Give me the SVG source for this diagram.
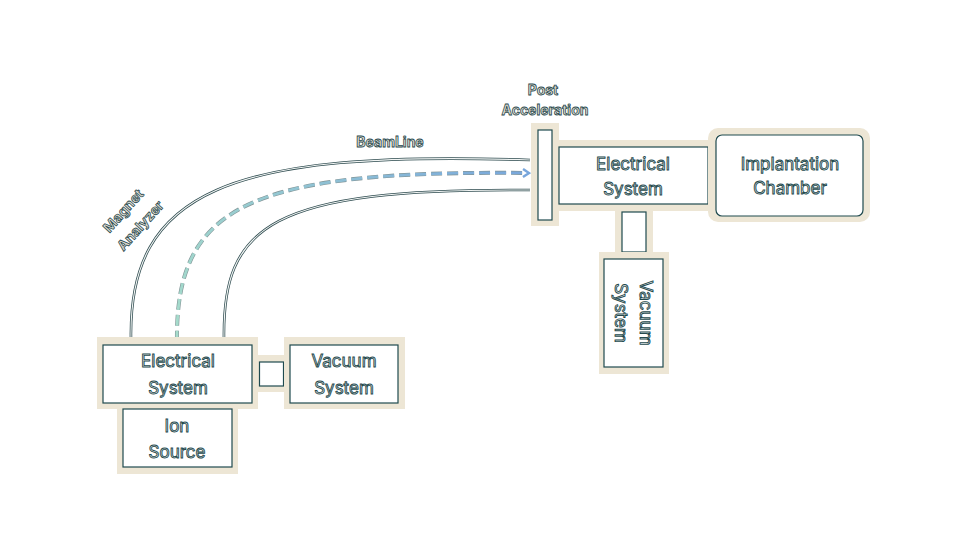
<svg xmlns="http://www.w3.org/2000/svg" width="960" height="540" viewBox="0 0 960 540">
<defs>
<style>
.frame{fill:#ede6d5;stroke:none}
.inner{fill:#ffffff;stroke:#1f4a4f;stroke-width:1.2}
.t{font-family:Inter,"Noto Sans",sans-serif;font-size:17px;fill:#f2f5f4;stroke:#24494d;stroke-width:0.9;text-anchor:middle}
.lbl{font-family:Inter,"Noto Sans",sans-serif;font-size:14px;font-weight:bold;fill:#e4e0d3;stroke:#2a4a4f;stroke-width:0.8;text-anchor:middle}
.railDark{fill:none;stroke:#2f4c50;stroke-width:2.6}
.railLight{fill:none;stroke:#f2f5f4;stroke-width:1.1}
</style>
<linearGradient id="beamGrad" gradientUnits="userSpaceOnUse" x1="177" y1="340" x2="530" y2="173">
<stop offset="0" stop-color="#a6dccb"/>
<stop offset="1" stop-color="#78a6dc"/>
</linearGradient>
<marker id="arrow" markerWidth="10" markerHeight="10" refX="7" refY="5" orient="auto" markerUnits="userSpaceOnUse">
<path d="M2,1 L8,5 L2,9" fill="none" stroke="#78a6dc" stroke-width="2.4"/>
</marker>
</defs>
<rect width="960" height="540" fill="#ffffff"/>

<g id="connectors">
<path class="railDark" d="M131,340 C128,190 230,150 530,160"/>
<path class="railLight" d="M131,340 C128,190 230,150 530,160"/>
<path class="railDark" d="M224,340 C222,225 270,188 530,190"/>
<path class="railLight" d="M224,340 C222,225 270,188 530,190"/>
<path d="M177,342 C175,205 250,170 528,173" fill="none" stroke="#2f4c50" stroke-width="4" stroke-dasharray="11 5" opacity="0.6"/>
<path d="M177,342 C175,205 250,170 528,173" fill="none" stroke="url(#beamGrad)" stroke-width="2.8" stroke-dasharray="11 5" marker-end="url(#arrow)"/>
</g>

<g id="electrical-bottom">
<rect class="frame" x="97" y="337" width="161" height="72"/>
<rect class="inner" x="103" y="345" width="149" height="58"/>
<text class="t" x="178" y="367">Electrical</text>
<text class="t" x="178" y="394">System</text>
</g>

<g id="ion-source">
<rect class="frame" x="117" y="405" width="121" height="69"/>
<rect class="inner" x="123" y="409" width="109" height="58"/>
<text class="t" x="177" y="432">Ion</text>
<text class="t" x="177" y="458">Source</text>
</g>

<g id="link-bottom">
<rect class="frame" x="258" y="355" width="27" height="37"/>
<rect class="inner" x="259.5" y="362" width="24" height="24"/>
</g>

<g id="vacuum-bottom">
<rect class="frame" x="284" y="337" width="121" height="72"/>
<rect class="inner" x="290" y="345" width="108" height="58"/>
<text class="t" x="344" y="367">Vacuum</text>
<text class="t" x="344" y="394">System</text>
</g>

<g id="post-acceleration">
<rect class="frame" x="531" y="123" width="28" height="103"/>
<rect class="inner" x="538" y="130" width="14" height="90"/>
<text class="lbl" x="543" y="95" font-size="13">Post</text>
<text class="lbl" x="545" y="115" font-size="13">Acceleration</text>
</g>

<g id="electrical-top">
<rect class="frame" x="559" y="140" width="150" height="71"/>
<rect class="inner" x="559" y="147" width="149" height="57"/>
<text class="t" x="633" y="170">Electrical</text>
<text class="t" x="633" y="195">System</text>
</g>

<g id="implantation-chamber">
<rect class="frame" x="708" y="128" width="162" height="94" rx="10"/>
<rect class="inner" x="716" y="135" width="147" height="81" rx="6"/>
<text class="t" x="790" y="170">Implantation</text>
<text class="t" x="790" y="194">Chamber</text>
</g>

<g id="link-top">
<rect class="frame" x="615" y="211" width="38" height="43"/>
<rect class="inner" x="622" y="212" width="24" height="40"/>
</g>

<g id="vacuum-top">
<rect class="frame" x="599" y="252" width="70" height="122"/>
<rect class="inner" x="604" y="259" width="59" height="108"/>
<text class="t" transform="translate(640,313) rotate(90)">Vacuum</text>
<text class="t" transform="translate(615,313) rotate(90)">System</text>
</g>

<g id="beamline-label">
<text class="lbl" x="390" y="147">BeamLine</text>
</g>

<g id="magnet-analyzer-label">
<text class="lbl" font-size="15" transform="translate(127,214) rotate(-48)">Magnet</text>
<text class="lbl" font-size="15" transform="translate(144,229) rotate(-48)">Analyzer</text>
</g>
</svg>
